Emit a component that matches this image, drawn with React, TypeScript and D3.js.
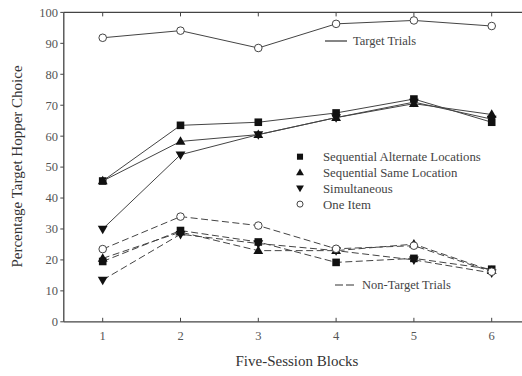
import React from "react";
import * as d3 from "d3";

const blocks = [1, 2, 3, 4, 5, 6];
const yTicks = [0, 10, 20, 30, 40, 50, 60, 70, 80, 90, 100];

const seriesNames = ["Sequential Alternate Locations", "Sequential Same Location", "Simultaneous", "One Item"];
const seriesSymbols = ["square", "triangleUp", "triangleDown", "circle"];

const targetAlt = [45.5, 63.5, 64.5, 67.5, 72, 64.5];
const targetSame = [45.5, 58.3, 60.5, 66, 70.5, 67];
const targetSimul = [30, 54, 60.5, 66, 71, 65.5];
const targetOne = [91.8, 94.1, 88.5, 96.3, 97.4, 95.6];

const nonTargetAlt = [19.5, 29.5, 25.8, 19.2, 20.5, 17];
const nonTargetSame = [20.5, 29, 23, 23, 25.1, 16.5];
const nonTargetSimul = [13.5, 28.3, 25.3, 23, 20, 15.8];
const nonTargetOne = [23.5, 34, 31.1, 23.6, 24.6, 16.2];

const W = 522, H = 376;
const x = d3.scaleLinear().domain([0.5, 6.5]).range([63.8, 530.6]);
const y = d3.scaleLinear().domain([0, 100]).range([321.8, 12.4]);

const lineGen = d3.line<number>().x((_, i) => x(blocks[i])).y((v) => y(v));

const ink = "#333";

function Marker({ kind, cx, cy, k = 1 }: { kind: string; cx: number; cy: number; k?: number }) {
  if (kind === "square") return <rect x={cx - 3.8 * k} y={cy - 3.8 * k} width={7.6 * k} height={7.6 * k} fill="#111" />;
  if (kind === "circle") return <circle cx={cx} cy={cy} r={3.8 * k} fill="white" stroke="#444" strokeWidth={1} />;
  const path = d3.symbol().type(d3.symbolTriangle).size(42 * k * k)() as string;
  return <path d={path} transform={`translate(${cx},${cy + (kind === "triangleUp" ? 0.5 : -0.5)}) rotate(${kind === "triangleUp" ? 0 : 180})`} fill="#111" />;
}

function Series({ values, kind, dashed }: { values: number[]; kind: string; dashed: boolean }) {
  return (
    <g>
      <path d={lineGen(values) as string} fill="none" stroke="#444" strokeWidth={1} strokeDasharray={dashed ? "7,3.5" : undefined} />
      {values.map((v, i) => <Marker key={i} kind={kind} cx={x(blocks[i])} cy={y(v)} />)}
    </g>
  );
}

export default function App() {
  const target = [targetAlt, targetSame, targetSimul, targetOne];
  const nonTarget = [nonTargetAlt, nonTargetSame, nonTargetSimul, nonTargetOne];
  const font = "'Liberation Serif', 'DejaVu Serif', serif";
  return (
    <svg width={W} height={H} style={{ position: "absolute", left: 0, top: 0, background: "white" }} fontFamily={font}>
      <rect width={W} height={H} fill="white" />
      <line x1={x(0.5)} x2={W} y1={y(100)} y2={y(100)} stroke="#444" strokeWidth={1.3} />
      <line x1={x(0.5)} x2={W} y1={y(0)} y2={y(0)} stroke="#444" strokeWidth={1.3} />
      <line x1={x(0.5)} x2={x(0.5)} y1={y(100)} y2={y(0)} stroke="#444" strokeWidth={1.3} />
      {yTicks.map((t) => (
        <g key={t}>
          <line x1={x(0.5) - 3.5} x2={x(0.5)} y1={y(t)} y2={y(t)} stroke="#444" strokeWidth={1} />
          <text x={58} y={y(t)} dy="0.35em" textAnchor="end" fontSize={12.5} fill="#555">{t}</text>
        </g>
      ))}
      {blocks.map((b) => (
        <g key={b}>
          <line x1={x(b)} x2={x(b)} y1={y(0)} y2={y(0) - 4} stroke="#444" strokeWidth={1} />
          <line x1={x(b)} x2={x(b)} y1={y(100)} y2={y(100) + 4} stroke="#444" strokeWidth={1} />
          <text x={x(b)} y={340} textAnchor="middle" fontSize={12.5} fill="#555">{b}</text>
        </g>
      ))}
      <text x={297} y={366} textAnchor="middle" fontSize={15} fill={ink}>Five-Session Blocks</text>
      <text transform={`translate(22,${166.5}) rotate(-90)`} textAnchor="middle" fontSize={15} fill={ink}>Percentage Target Hopper Choice</text>

      {nonTarget.map((vals, i) => <Series key={"n" + i} values={vals} kind={seriesSymbols[i]} dashed={true} />)}
      {target.map((vals, i) => <Series key={"t" + i} values={vals} kind={seriesSymbols[i]} dashed={false} />)}

      <line x1={325} x2={347} y1={41} y2={41} stroke="#333" strokeWidth={1.2} />
      <text x={353} y={41} dy="0.35em" fontSize={12.5} fill="#444">Target Trials</text>
      <line x1={335} x2={356} y1={285} y2={285} stroke="#333" strokeWidth={1.2} strokeDasharray="8,3" />
      <text x={362} y={285} dy="0.35em" fontSize={12.5} fill="#444">Non-Target Trials</text>
      {seriesNames.map((n, i) => {
        const ly = 156.7 + i * 15.8;
        return (
          <g key={n}>
            <Marker kind={seriesSymbols[i]} cx={300} cy={ly} k={0.8} />
            <text x={323} y={ly} dy="0.35em" fontSize={12.8} fill="#444">{n}</text>
          </g>
        );
      })}
    </svg>
  );
}
